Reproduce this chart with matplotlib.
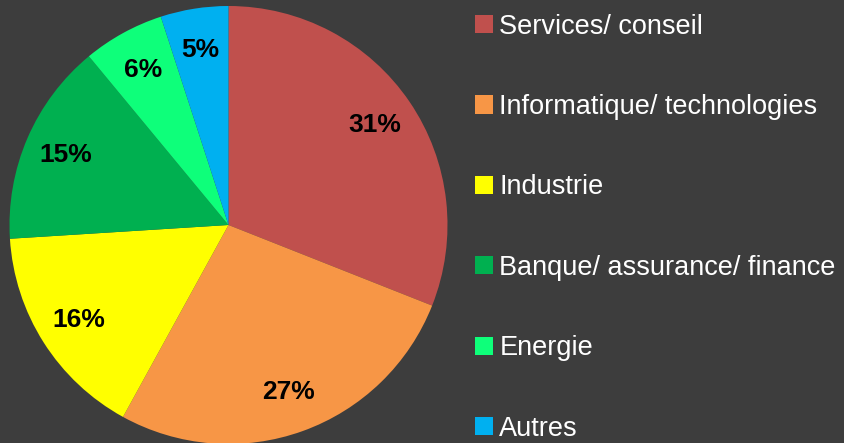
import matplotlib
matplotlib.use("Agg")
import matplotlib.pyplot as plt
import numpy as np

categories = ["Services/ conseil", "Informatique/ technologies", "Industrie",
              "Banque/ assurance/ finance", "Energie", "Autres"]
values = [31, 27, 16, 15, 6, 5]
colors = ["#C0504D", "#F79646", "#FFFF00", "#00B050", "#0EFF7A", "#00B0F0"]

W, H = 845, 443
fig = plt.figure(figsize=(W / 100, H / 100), dpi=100)
fig.patch.set_facecolor("#3d3d3d")

cx, cy, r = 228.5, 225, 219
ax = fig.add_axes([(cx - r) / W, (H - cy - r) / H, 2 * r / W, 2 * r / H])
ax.set_facecolor("none")

wedges, texts, autotexts = ax.pie(
    values, colors=colors, startangle=90, counterclock=False,
    autopct=lambda p: f"{p:.0f}%", pctdistance=0.81,
    wedgeprops=dict(linewidth=0),
    textprops=dict(fontsize=19, fontweight="bold", color="black",
                   family="Liberation Sans"),
)
ax.set_xlim(-1, 1)
ax.set_ylim(-1, 1)
ax.set_aspect("equal")
ax.axis("off")

leg = fig.legend(
    wedges, categories, loc="upper left",
    bbox_to_anchor=(475 / W, 1 - 13.5 / H), frameon=False,
    prop=dict(family="Liberation Sans", size=19.5),
    labelcolor="white", handlelength=0.66, handleheight=0.66,
    handletextpad=0.24, labelspacing=2.01, borderpad=0, borderaxespad=0,
)

fig.savefig("out.png", dpi=100, facecolor=fig.get_facecolor())
